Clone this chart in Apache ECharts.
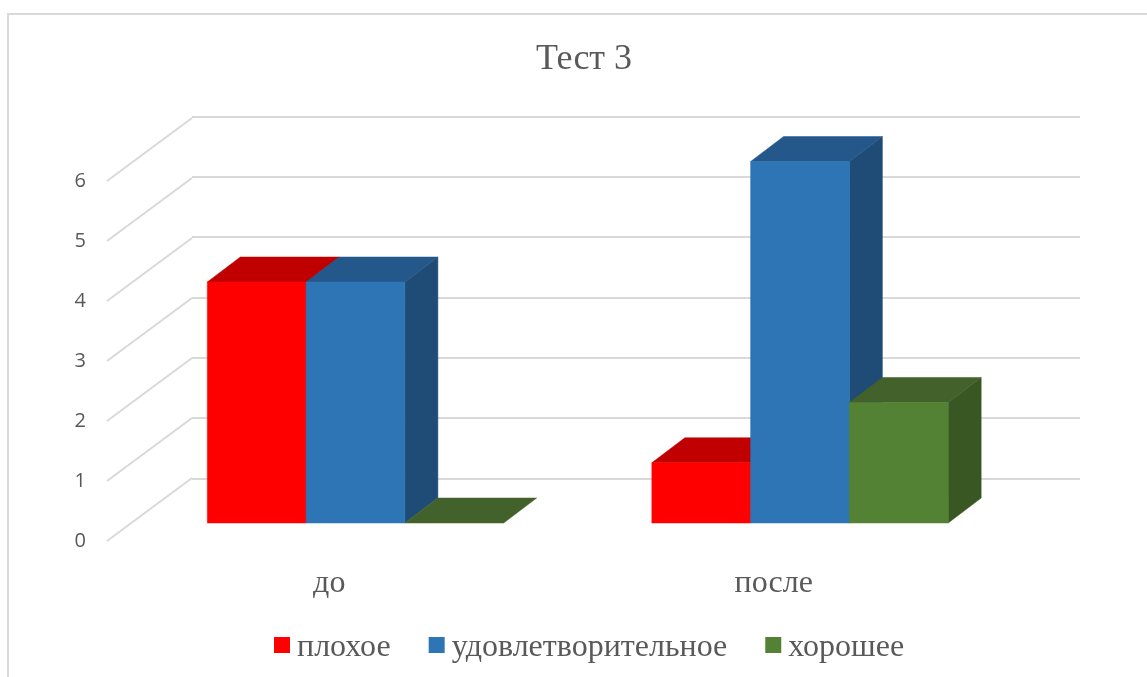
<!DOCTYPE html>
<html><head><meta charset="utf-8">
<style>html,body{margin:0;padding:0;background:#fff}#c{width:1147px;height:677px}</style>
<script src="https://cdn.jsdelivr.net/npm/echarts@6/dist/echarts.min.js"></script>
</head><body><div id="c"></div>
<script>
const categories = ['до', 'после'];
const seriesNames = ['плохое', 'удовлетворительное', 'хорошее'];
const bad = [4, 1];
const fair = [4, 6];
const good = [0, 2];
const yTicks = [0, 1, 2, 3, 4, 5, 6];
const fronts = ['#ff0000', '#2e75b6', '#548235'];
const tops = ['#c00000', '#24588a', '#43622b'];
const sides = ['#a00000', '#1f4c76', '#385723'];

const serif = '"Liberation Serif","Times New Roman",serif';
const DEPTH_X = 33, DEPTH_Y = -25;     // bar depth projection
const WALL_X = 85, WALL_Y = -63;       // side wall projection

function barRender(idx) {
  return function (params, api) {
    const c = api.value(0), v = api.value(1);
    const top = api.coord([c, v]);
    const base = api.coord([c, 0]);
    const w = api.size([1, 0])[0] / 4.5;
    const l = top[0] + (idx - 1.5) * w, r = l + w;
    const t = top[1], b = base[1];
    const poly = (pts, fill) => ({ type: 'polygon', shape: { points: pts }, style: { fill, stroke: fill, lineWidth: 0.5 } });
    const children = [];
    if (v > 0) children.push(poly([[r, t], [r + DEPTH_X, t + DEPTH_Y], [r + DEPTH_X, b + DEPTH_Y], [r, b]], sides[idx]));
    children.push(poly([[l, t], [l + DEPTH_X, t + DEPTH_Y], [r + DEPTH_X, t + DEPTH_Y], [r, t]], tops[idx]));
    if (v > 0) children.push(poly([[l, t], [r, t], [r, b], [l, b]], fronts[idx]));
    return { type: 'group', children };
  };
}

const values = [bad, fair, good];
const chart = echarts.init(document.getElementById('c'), null, { renderer: 'canvas' });
chart.setOption({
  animation: false,
  backgroundColor: '#fff',
  graphic: [{ type: 'rect', silent: true, z: -10, shape: { x: 8, y: 14, width: 1300, height: 800 },
    style: { fill: 'none', stroke: '#d9d9d9', lineWidth: 2 } }],
  title: { text: 'Тест 3', left: 579, top: 37, textAlign: 'center',
    textStyle: { fontFamily: serif, fontSize: 36, fontWeight: 'normal', color: '#595959' } },
  legend: { data: seriesNames, left: 269, top: 627, icon: 'rect', itemWidth: 16, itemHeight: 16, itemGap: 38,
    selectedMode: false,
    formatter: name => '{a|' + name + '}',
    textStyle: { fontFamily: serif, fontSize: 32, color: '#595959',
      rich: { a: { fontFamily: serif, fontSize: 32, color: '#595959', padding: [6, 0, 0, 2] } } } },
  grid: [
    { left: 107, width: 889, top: 181, height: 360 },
    { left: 192, width: 888, top: 116.5, height: 362 },
    { left: 133.25, width: 889, top: 161.5, height: 361.5 }
  ],
  xAxis: [
    { gridIndex: 0, type: 'category', data: categories, axisLine: { show: false }, axisTick: { show: false },
      axisLabel: { margin: 27, fontFamily: serif, fontSize: 32, color: '#595959' } },
    { gridIndex: 1, type: 'category', data: categories, show: false },
    { gridIndex: 2, type: 'category', data: categories, show: false }
  ],
  yAxis: [
    { gridIndex: 0, type: 'value', min: 0, max: 6, interval: 1, axisLine: { show: false }, axisTick: { show: false },
      splitLine: { show: false }, axisLabel: { margin: 21, fontFamily: '"Open Sans",sans-serif', fontSize: 20, color: '#595959' } },
    { gridIndex: 1, type: 'value', min: 0, max: 6, interval: 1, axisLine: { show: false }, axisTick: { show: false },
      axisLabel: { show: false }, splitLine: { show: true, lineStyle: { color: '#d9d9d9', width: 2 } } },
    { gridIndex: 2, type: 'value', min: 0, max: 6, interval: 1, show: false }
  ],
  series: [
    { type: 'custom', name: 'wall', xAxisIndex: 0, yAxisIndex: 0, silent: true, z: 1,
      data: yTicks.map(v => [0, v]),
      encode: { x: 0, y: 1 },
      renderItem: function (params, api) {
        const p = api.coord([0, api.value(1)]);
        const x0 = p[0] - api.size([1, 0])[0] / 2;
        return { type: 'line', shape: { x1: x0, y1: p[1], x2: x0 + WALL_X, y2: p[1] + WALL_Y },
          style: { stroke: '#d9d9d9', lineWidth: 2 } };
      } }
  ].concat(seriesNames.map((name, i) => ({
    type: 'custom', name, xAxisIndex: 2, yAxisIndex: 2, z: 5 + i, silent: true,
    itemStyle: { color: fronts[i] },
    data: categories.map((_, c) => [c, values[i][c]]),
    encode: { x: 0, y: 1 },
    renderItem: barRender(i)
  })))
});
</script></body></html>
